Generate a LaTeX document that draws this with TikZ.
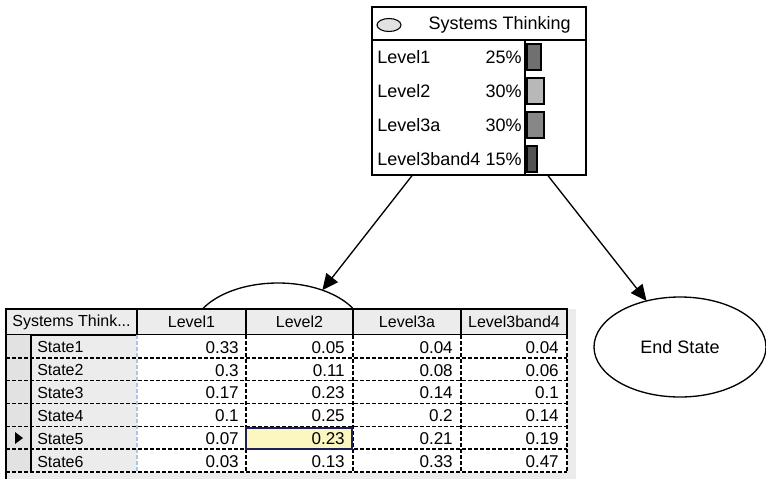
\documentclass[tikz,border=0pt]{standalone}
\usepackage{fontspec}
\setmainfont{Liberation Sans}
\usepackage{tikz}
\usetikzlibrary{shapes.geometric, arrows.meta}

\definecolor{cellgrey}{HTML}{ECECEC}
\definecolor{rowgrey}{HTML}{E2E2E2}
\definecolor{hilite}{HTML}{FCF7C1}
\definecolor{hiliteline}{HTML}{1E1E5A}
\definecolor{sepblue}{HTML}{A9C6E6}
\newcommand{\parentname}{Systems Think...}

\begin{document}
\begin{tikzpicture}[x=0.75pt,y=-0.75pt,
    big/.style={font=\fontsize{13.5}{16}\selectfont},
    small/.style={font=\fontsize{12}{14}\selectfont},
    var/.style={ellipse,draw,line width=1pt,inner sep=0pt,outer sep=0pt,
      minimum width=129pt,minimum height=75pt,big},
    bar/.style={draw,line width=1pt},
    hdrcell/.style={fill=cellgrey,draw,line width=1.3pt},
    grid/.style={dash pattern=on 3pt off 1.5pt,line width=1pt},
    val/.style={font=\fontsize{12.8}{15}\selectfont,anchor=east,inner sep=0pt},
    link/.style={-{Triangle[length=12pt,width=11pt]},line width=1pt}]
   \useasboundingbox (0,0) rectangle (766,479);

   % nodes
   \node[var] (cpt) at (278,333) {};
   \node[var] (es) at (680,347) {End State};
   \node[draw,line width=1pt,inner sep=0pt,minimum width=160.5pt,
         minimum height=126pt] (st) at (479,91) {};

   % monitor window of the top node
   \draw[line width=1pt] (372,40) -- (586,40);
   \draw[line width=1pt] (525,40) -- (525,175);
   \draw[fill=rowgrey,line width=0.8pt] (389,25) ellipse (12 and 6.5);
   \node[big,anchor=west] (title) at (424,25) {Systems Thinking};
   \foreach \y/\lvl/\pc/\w/\c [count=\i] in
       {57/Level1/25\%/14/black!56, 91/Level2/30\%/17/black!28,
        125/Level3a/30\%/17/black!47, 159/Level3band4/15\%/10/black!68} {
     \node[big,anchor=west,inner sep=0pt] (lv\i) at (377,\y) {\lvl};
     \node[big,anchor=east,inner sep=0pt] (pc\i) at (522,\y) {\pc};
     \draw[bar,fill=\c] (527,\y-13) rectangle (527+\w,\y+13);
   }

   % probability table
   \fill[cellgrey] (6,309) rectangle (576,479);
   \foreach \xa/\xb/\t [count=\i] in {6/137/\parentname,
       137/246/Level1, 246/353/Level2, 353/461/Level3a, 461/567/Level3band4} {
     \draw[hdrcell] (\xa,309) rectangle (\xb,335);
     \node[small] (h\i) at ({(\xa+\xb)/2},322) {\t};
   }
   \foreach \r in {1,...,6} {
     \fill[rowgrey] (6,{335+(\r-1)*22.83}) rectangle (31,{335+\r*22.83});
     \fill[white] (137,{335+(\r-1)*22.83}) rectangle (567,{335+\r*22.83});
   }
   \foreach \r in {1,...,6}
     \draw[grid] (6,{335+\r*22.83}) -- (567,{335+\r*22.83});
   \foreach \x in {246,353,461,567}
     \draw[grid] (\x,335) -- (\x,472);
   \draw[grid,sepblue] (137,335) -- (137,472);
   \draw[fill=hilite,draw=hiliteline,line width=1.5pt]
     (246,427.5) rectangle (352,449);
   \draw[line width=1.3pt] (6,309) -- (6,479);
   \draw[line width=1.3pt] (31,335) -- (31,472);
   \fill (15,432) -- (23,438) -- (15,444) -- cycle;

   \foreach \r/\a/\b/\c/\d in {1/0.33/0.05/0.04/0.04, 2/0.3/0.11/0.08/0.06,
       3/0.17/0.23/0.14/0.1, 4/0.1/0.25/0.2/0.14, 5/0.07/0.23/0.21/0.19,
       6/0.03/0.13/0.33/0.47} {
     \node[small,anchor=west,inner sep=0pt] (s\r) at (37,{336+(\r-0.5)*22.83}) {State\r};
     \node[val] (a\r) at (239,{336+(\r-0.5)*22.83}) {\a};
     \node[val] (b\r) at (345,{336+(\r-0.5)*22.83}) {\b};
     \node[val] (c\r) at (453,{336+(\r-0.5)*22.83}) {\c};
     \node[val] (d\r) at (559,{336+(\r-0.5)*22.83}) {\d};
   }

   % links
   \draw[link] ([xshift=-50.25pt]st.south) -- (cpt.44);
   \draw[link] ([xshift=51.75pt]st.south) -- (es.126);
\end{tikzpicture}
\end{document}
